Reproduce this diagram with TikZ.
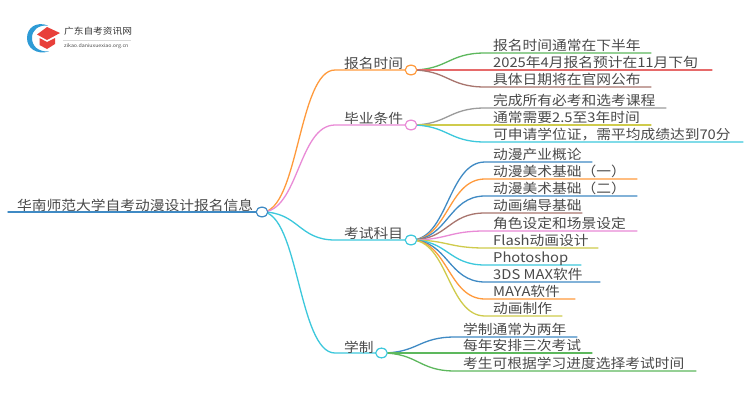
\documentclass[tikz,border=0pt]{standalone}
\usepackage{fontspec}
\setmainfont{Noto Sans CJK SC}[FakeStretch=1.1]
\usetikzlibrary{calc,shapes.geometric}
\definecolor{corange}{HTML}{FF9A3C}
\definecolor{cpink}{HTML}{E98AD6}
\definecolor{ccyan}{HTML}{3CC8DC}
\definecolor{cblue}{HTML}{3F8AC4}
\definecolor{cgreen}{HTML}{5DB85D}
\definecolor{cred}{HTML}{E66A6A}
\definecolor{cbrown}{HTML}{A8756E}
\definecolor{cgray}{HTML}{9C9C9C}
\definecolor{cyellow}{HTML}{CFCB4C}
\definecolor{ctext}{HTML}{4A4A4A}
\definecolor{clogored}{HTML}{E8403A}
\definecolor{clogoblue}{HTML}{2E9BD6}
\tikzset{
  x=1pt,y=-1pt,
  lab/.style={anchor=base west,inner sep=0pt,text=ctext,font=\fontsize{13.4}{14}\selectfont},
  hub/.style={ellipse,draw=#1,fill=white,line width=1.1pt,minimum width=11.5pt,minimum height=9.5pt,inner sep=0pt},
  wire/.style={draw=#1,line width=1.3pt,line cap=round},
}
\newcommand{\leafbranch}[7]{%
  \coordinate (#2s) at (#3,#4);
  \coordinate (#2e) at (#5,#4);
  \path let \p1=(#1.center), \p2=(#2s), \n1={0.5*(\x1+\x2)} in
    coordinate (#2a) at (\n1,\y1) coordinate (#2b) at (\n1,\y2);
  \draw[wire=#6] (#1.center) .. controls (#2a) and (#2b) .. (#2s) -- (#2e);
  \node[lab] (#2) at ([xshift=8pt,yshift=2.5pt]#2s) {#7};
}
\newcommand{\mainbranch}[3]{%
  \coordinate (#20) at (335,#3);
  \path let \p1=(root.center), \p2=(#20), \n1={0.5*(\x1+\x2)} in
    coordinate (#2a) at (\n1,\y1) coordinate (#2b) at (\n1,\y2);
  \draw[wire=#1] (root.center) .. controls (#2a) and (#2b) .. (#20) -- (#2.center);
}
\begin{document}
\begin{tikzpicture}
\useasboundingbox (0,0) rectangle (750,410);
\fill[white] (0,0) rectangle (750,410);
% logo
\fill[clogoblue] (48,25.5) .. controls (36,21) and (27,28) .. (27,38) .. controls (27,48) and (36,55) .. (49,51.5) .. controls (38,52) and (32,46) .. (32,38) .. controls (32,30) and (38,25) .. cycle;
\fill[clogored] (47,27) -- (60,33) -- (47,40) -- (37,34.5) -- cycle;
\fill[clogored] (39.5,38) -- (47,42) -- (55,38) -- (55,44) -- (47,49) -- (39.5,45) -- cycle;
\node[anchor=west,inner sep=0pt,text=black!80,font=\fontsize{8.8}{10}\selectfont] (logotitle) at (64,31.5) {广东自考资讯网};
\node[anchor=west,inner sep=0pt,text=black!70,font=\fontsize{4.8}{5}\selectfont] (logosub) at (64,46.5) {zikao.daniuxuexiao.org.cn};
\draw[black!15,line width=0.4pt] (63,40) -- (131,40);
% root and branch hubs
\node[hub=cblue] (root) at (262,212) {};
\coordinate (rootl) at (8,212);
\node[lab] (roott) at (17,210) {华南师范大学自考动漫设计报名信息};
\node[hub=corange] (a) at (411,70) {};
\node[hub=cpink] (b) at (411,125) {};
\node[hub=ccyan] (c) at (411,240) {};
\node[hub=ccyan] (d) at (381.5,353) {};
\mainbranch{corange}{a}{70}
\mainbranch{cpink}{b}{125}
\mainbranch{ccyan}{c}{240}
\mainbranch{ccyan}{d}{353}
\draw[wire=cblue,line width=1.5pt] (rootl) -- (root.center);
\node[lab] (at) at (344,68) {报名时间};
\node[lab] (bt) at (344,123) {毕业条件};
\node[lab] (ct) at (344,238) {考试科目};
\node[lab] (dt) at (344,352) {学制};
% leaves
\leafbranch{a}{a1}{485}{53}{651}{cgreen}{报名时间通常在下半年}
\leafbranch{a}{a2}{485}{70}{712}{cred}{2025年4月报名预计在11月下旬}
\leafbranch{a}{a3}{485}{87}{651}{cbrown}{具体日期将在官网公布}
\leafbranch{b}{b1}{485}{108}{666}{cgray}{完成所有必考和选考课程}
\leafbranch{b}{b2}{485}{125}{651}{cyellow}{通常需要2.5至3年时间}
\leafbranch{b}{b3}{485}{142}{743}{ccyan}{可申请学位证，需平均成绩达到70分}
\leafbranch{c}{c1}{485}{162}{592}{cblue}{动漫产业概论}
\leafbranch{c}{c2}{485}{179}{637}{corange}{动漫美术基础（一）}
\leafbranch{c}{c3}{485}{196}{637}{cblue}{动漫美术基础（二）}
\leafbranch{c}{c4}{485}{213}{582}{cbrown}{动画编导基础}
\leafbranch{c}{c5}{485}{231}{637}{cpink}{角色设定和场景设定}
\leafbranch{c}{c6}{485}{248}{598}{cyellow}{Flash动画设计}
\leafbranch{c}{c7}{485}{265}{581}{ccyan}{Photoshop}
\leafbranch{c}{c8}{485}{282}{600}{cblue}{3DS MAX软件}
\leafbranch{c}{c9}{485}{299}{575}{corange}{MAYA软件}
\leafbranch{c}{c10}{485}{316}{562}{cyellow}{动画制作}
\leafbranch{d}{d1}{455}{337}{577}{cblue}{学制通常为两年}
\leafbranch{d}{d2}{455}{353}{592}{cgreen}{每年安排三次考试}
\leafbranch{d}{d3}{455}{371}{696}{cgreen}{考生可根据学习进度选择考试时间}
% hubs on top
\foreach \n/\c in {root/cblue,a/corange,b/cpink,c/ccyan,d/ccyan}{\node[hub=\c] at (\n.center) {};}
\end{tikzpicture}
\end{document}
